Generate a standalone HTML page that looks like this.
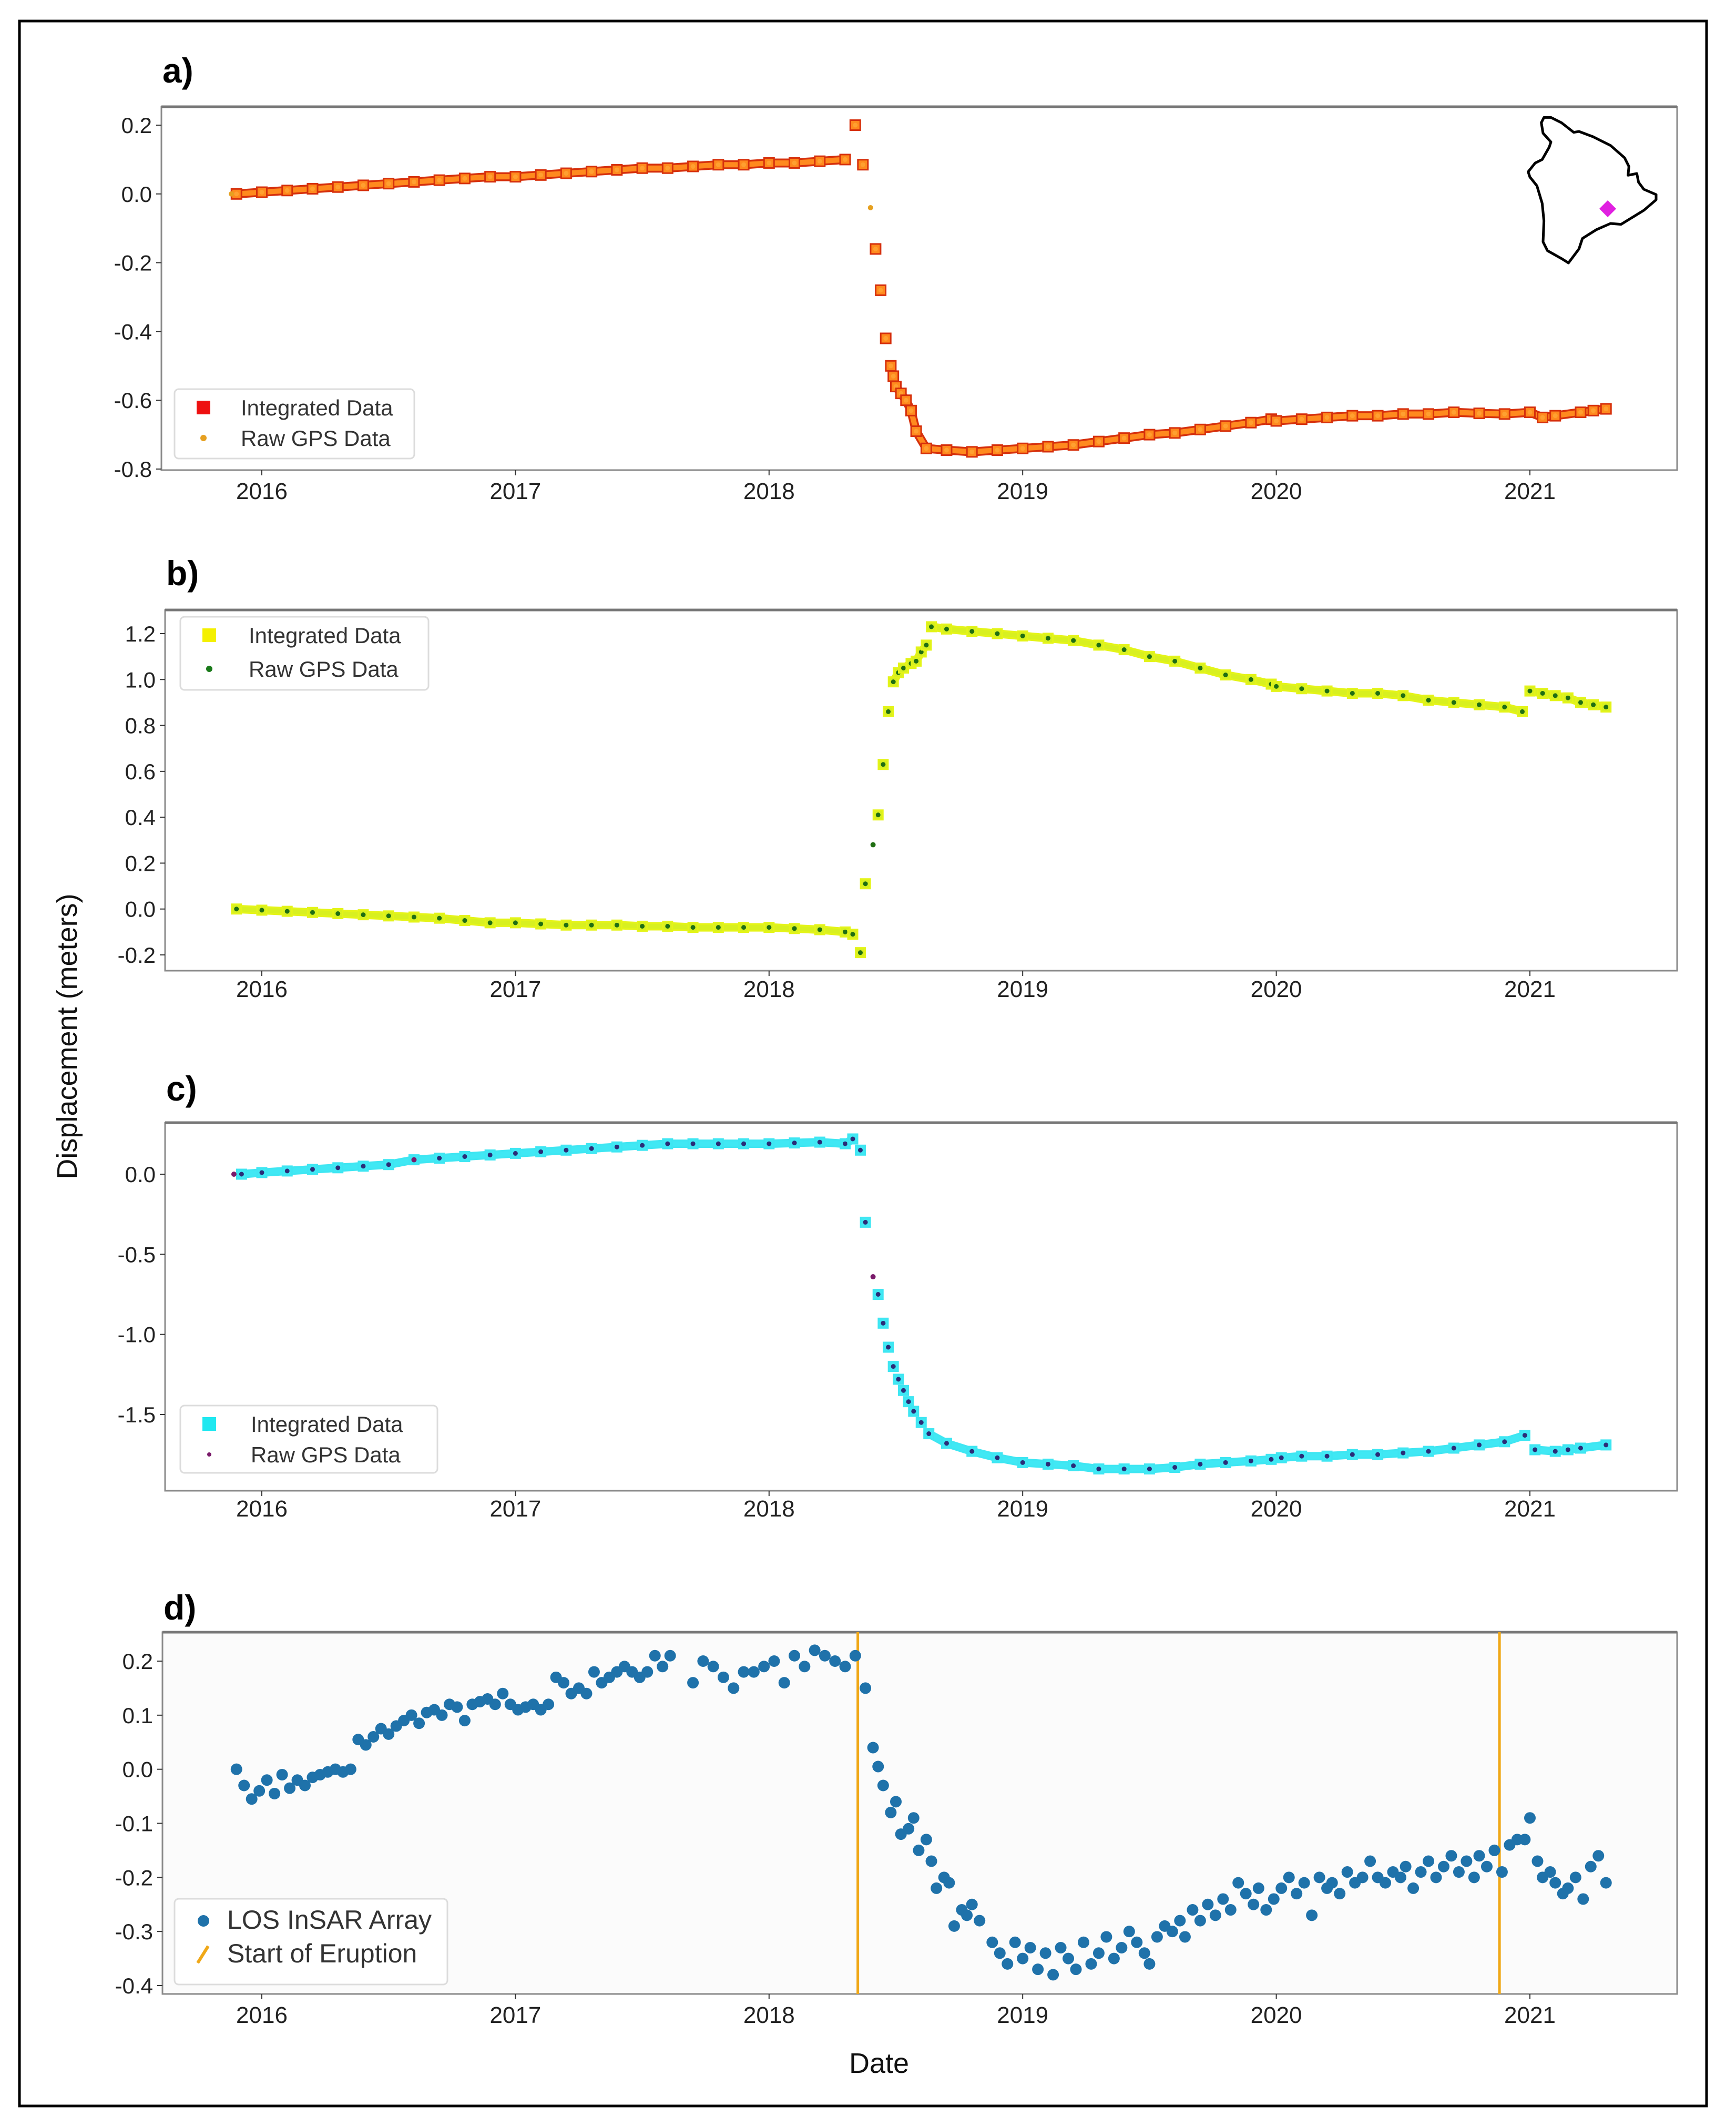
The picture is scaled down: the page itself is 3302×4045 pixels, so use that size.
<!DOCTYPE html>
<html><head><meta charset="utf-8"><style>
html,body{margin:0;padding:0;background:#fff;}
svg{display:block;font-family:"Liberation Sans",sans-serif;}
</style></head><body>
<svg id="fig" width="3302" height="4045" viewBox="0 0 3302 4045" xmlns="http://www.w3.org/2000/svg"></svg>
<script>
// ---------- Panel a data ----------
const aDates=[2015.9,2016.0,2016.1,2016.2,2016.3,2016.4,2016.5,2016.6,2016.7,2016.8,2016.9,2017.0,2017.1,2017.2,2017.3,2017.4,2017.5,2017.6,2017.7,2017.8,2017.9,2018.0,2018.1,2018.2,2018.3,2018.34,2018.37,2018.42,2018.44,2018.46,2018.48,2018.49,2018.5,2018.52,2018.54,2018.56,2018.58,2018.62,2018.7,2018.8,2018.9,2019.0,2019.1,2019.2,2019.3,2019.4,2019.5,2019.6,2019.7,2019.8,2019.9,2019.98,2020.0,2020.1,2020.2,2020.3,2020.4,2020.5,2020.6,2020.7,2020.8,2020.9,2021.0,2021.05,2021.1,2021.2,2021.25,2021.3];
const aValues=[0.0,0.005,0.01,0.015,0.02,0.025,0.03,0.035,0.04,0.045,0.05,0.05,0.055,0.06,0.065,0.07,0.075,0.075,0.08,0.085,0.085,0.09,0.09,0.095,0.10,0.20,0.085,-0.16,-0.28,-0.42,-0.50,-0.53,-0.56,-0.58,-0.60,-0.63,-0.69,-0.74,-0.745,-0.75,-0.745,-0.74,-0.735,-0.73,-0.72,-0.71,-0.70,-0.695,-0.685,-0.675,-0.665,-0.655,-0.66,-0.655,-0.65,-0.645,-0.645,-0.64,-0.64,-0.635,-0.638,-0.64,-0.635,-0.65,-0.645,-0.635,-0.63,-0.625];
const aRawDates=[2015.88,2018.40];
const aRawValues=[0.0,-0.04];
const aTicks=[0.2,0.0,-0.2,-0.4,-0.6,-0.8];
const aTickLabels=["0.2","0.0","-0.2","-0.4","-0.6","-0.8"];
// ---------- Panel b data ----------
const bDates=[2015.9,2016.0,2016.1,2016.2,2016.3,2016.4,2016.5,2016.6,2016.7,2016.8,2016.9,2017.0,2017.1,2017.2,2017.3,2017.4,2017.5,2017.6,2017.7,2017.8,2017.9,2018.0,2018.1,2018.2,2018.3,2018.33,2018.36,2018.38,2018.43,2018.45,2018.47,2018.49,2018.51,2018.53,2018.56,2018.58,2018.6,2018.62,2018.64,2018.7,2018.8,2018.9,2019.0,2019.1,2019.2,2019.3,2019.4,2019.5,2019.6,2019.7,2019.8,2019.9,2019.98,2020.0,2020.1,2020.2,2020.3,2020.4,2020.5,2020.6,2020.7,2020.8,2020.9,2020.97,2021.0,2021.05,2021.1,2021.15,2021.2,2021.25,2021.3];
const bValues=[0.0,-0.005,-0.01,-0.015,-0.02,-0.025,-0.03,-0.035,-0.04,-0.05,-0.06,-0.06,-0.065,-0.07,-0.07,-0.07,-0.075,-0.075,-0.08,-0.08,-0.08,-0.08,-0.085,-0.09,-0.10,-0.11,-0.19,0.11,0.41,0.63,0.86,0.99,1.03,1.05,1.07,1.08,1.12,1.15,1.23,1.22,1.21,1.20,1.19,1.18,1.17,1.15,1.13,1.10,1.08,1.05,1.02,1.00,0.98,0.97,0.96,0.95,0.94,0.94,0.93,0.91,0.90,0.89,0.88,0.86,0.95,0.94,0.93,0.92,0.90,0.89,0.88];
const bRawDates=[2018.41];
const bRawValues=[0.28];
const bTicks=[1.2,1.0,0.8,0.6,0.4,0.2,0.0,-0.2];
const bTickLabels=["1.2","1.0","0.8","0.6","0.4","0.2","0.0","-0.2"];
// ---------- Panel c data ----------
const cDates=[2015.92,2016.0,2016.1,2016.2,2016.3,2016.4,2016.5,2016.6,2016.7,2016.8,2016.9,2017.0,2017.1,2017.2,2017.3,2017.4,2017.5,2017.6,2017.7,2017.8,2017.9,2018.0,2018.1,2018.2,2018.3,2018.33,2018.36,2018.38,2018.43,2018.45,2018.47,2018.49,2018.51,2018.53,2018.55,2018.57,2018.6,2018.63,2018.7,2018.8,2018.9,2019.0,2019.1,2019.2,2019.3,2019.4,2019.5,2019.6,2019.7,2019.8,2019.9,2019.98,2020.02,2020.1,2020.2,2020.3,2020.4,2020.5,2020.6,2020.7,2020.8,2020.9,2020.98,2021.02,2021.1,2021.15,2021.2,2021.3];
const cValues=[0.0,0.01,0.02,0.03,0.04,0.05,0.06,0.09,0.10,0.11,0.12,0.13,0.14,0.15,0.16,0.17,0.18,0.19,0.19,0.19,0.19,0.19,0.195,0.20,0.19,0.22,0.15,-0.30,-0.75,-0.93,-1.08,-1.20,-1.28,-1.35,-1.42,-1.48,-1.55,-1.62,-1.68,-1.73,-1.77,-1.80,-1.81,-1.82,-1.84,-1.84,-1.84,-1.83,-1.81,-1.80,-1.79,-1.78,-1.77,-1.76,-1.76,-1.75,-1.75,-1.74,-1.73,-1.71,-1.69,-1.67,-1.63,-1.72,-1.73,-1.72,-1.71,-1.69];
const cRawDates=[2015.89,2016.6,2018.41];
const cRawValues=[0.0,0.09,-0.64];
const cTicks=[0.0,-0.5,-1.0,-1.5];
const cTickLabels=["0.0","-0.5","-1.0","-1.5"];
// ---------- Panel d data ----------
const dDates=[2015.90,2015.93,2015.96,2015.99,2016.02,2016.05,2016.08,2016.11,2016.14,2016.17,2016.20,2016.23,2016.26,2016.29,2016.32,2016.35,
2016.38,2016.41,2016.44,2016.47,2016.50,2016.53,2016.56,2016.59,2016.62,2016.65,2016.68,2016.71,2016.74,2016.77,2016.80,2016.83,2016.86,2016.89,2016.92,2016.95,
2016.98,2017.01,2017.04,2017.07,2017.10,2017.13,
2017.16,2017.19,2017.22,2017.25,2017.28,2017.31,2017.34,2017.37,2017.40,2017.43,2017.46,2017.49,2017.52,2017.55,2017.58,2017.61,
2017.70,2017.74,2017.78,2017.82,2017.86,2017.90,2017.94,2017.98,2018.02,2018.06,2018.10,2018.14,2018.18,2018.22,2018.26,2018.30,2018.34,2018.38,
2018.41,2018.43,2018.45,2018.48,2018.50,2018.52,2018.55,2018.57,2018.59,2018.62,2018.64,2018.66,2018.69,2018.71,2018.73,2018.76,2018.78,2018.80,2018.83,
2018.88,2018.91,2018.94,2018.97,2019.00,2019.03,2019.06,2019.09,2019.12,2019.15,2019.18,2019.21,2019.24,2019.27,2019.30,2019.33,2019.36,2019.39,2019.42,2019.45,2019.48,2019.50,
2019.53,2019.56,2019.59,2019.62,2019.64,2019.67,2019.70,2019.73,2019.76,2019.79,2019.82,2019.85,2019.88,2019.91,2019.93,2019.96,2019.99,
2020.02,2020.05,2020.08,2020.11,2020.14,2020.17,2020.20,2020.22,2020.25,2020.28,2020.31,2020.34,2020.37,2020.40,2020.43,2020.46,2020.49,2020.51,2020.54,2020.57,2020.60,2020.63,2020.66,2020.69,2020.72,2020.75,2020.78,2020.80,2020.83,2020.86,2020.89,2020.92,2020.95,2020.98,2021.00,
2021.03,2021.05,2021.08,2021.10,2021.13,2021.15,2021.18,2021.21,2021.24,2021.27,2021.30];
const dValues=[0.0,-0.03,-0.055,-0.04,-0.02,-0.045,-0.01,-0.035,-0.02,-0.03,-0.015,-0.01,-0.005,0.0,-0.005,0.0,
0.055,0.045,0.06,0.075,0.065,0.08,0.09,0.10,0.085,0.105,0.11,0.10,0.12,0.115,0.09,0.12,0.125,0.13,0.12,0.14,
0.12,0.11,0.115,0.12,0.11,0.12,
0.17,0.16,0.14,0.15,0.14,0.18,0.16,0.17,0.18,0.19,0.18,0.17,0.18,0.21,0.19,0.21,
0.16,0.20,0.19,0.17,0.15,0.18,0.18,0.19,0.20,0.16,0.21,0.19,0.22,0.21,0.20,0.19,0.21,0.15,
0.04,0.005,-0.03,-0.08,-0.06,-0.12,-0.11,-0.09,-0.15,-0.13,-0.17,-0.22,-0.20,-0.21,-0.29,-0.26,-0.27,-0.25,-0.28,
-0.32,-0.34,-0.36,-0.32,-0.35,-0.33,-0.37,-0.34,-0.38,-0.33,-0.35,-0.37,-0.32,-0.36,-0.34,-0.31,-0.35,-0.33,-0.30,-0.32,-0.34,-0.36,
-0.31,-0.29,-0.30,-0.28,-0.31,-0.26,-0.28,-0.25,-0.27,-0.24,-0.26,-0.21,-0.23,-0.25,-0.22,-0.26,-0.24,
-0.22,-0.20,-0.23,-0.21,-0.27,-0.20,-0.22,-0.21,-0.23,-0.19,-0.21,-0.20,-0.17,-0.20,-0.21,-0.19,-0.20,-0.18,-0.22,-0.19,-0.17,-0.20,-0.18,-0.16,-0.19,-0.17,-0.20,-0.16,-0.18,-0.15,-0.19,-0.14,-0.13,-0.13,-0.09,
-0.17,-0.20,-0.19,-0.21,-0.23,-0.22,-0.20,-0.24,-0.18,-0.16,-0.21];
const eruptionDates=[2018.35,2020.88];
const dTicks=[0.2,0.1,0.0,-0.1,-0.2,-0.3,-0.4];
const dTickLabels=["0.2","0.1","0.0","-0.1","-0.2","-0.3","-0.4"];
const yearTicks=[2016,2017,2018,2019,2020,2021];
const yearLabels=["2016","2017","2018","2019","2020","2021"];

const NS="http://www.w3.org/2000/svg";
const svg=document.getElementById('fig');
function mk(tag,attrs,parent){const e=document.createElementNS(NS,tag);for(const k in attrs)e.setAttribute(k,attrs[k]);(parent||svg).appendChild(e);return e;}

const border=mk('rect',{x:37,y:40,width:3209,height:3965,fill:'none',stroke:'#000','stroke-width':5});



function xScaleFactory(){return t=>498+(t-2016)*482.4;}
function yScaleFactory(v1,p1,v2,p2){return v=>p1+(v-v1)*(p2-p1)/(v2-v1);}

function panel(cfg){
  const g=mk('g',{});
  
  
  const X=xScaleFactory(); const Y=cfg.Y;
  const bg=mk('rect',{x:cfg.left,y:cfg.top,width:cfg.right-cfg.left,height:cfg.bottom-cfg.top,fill:cfg.bg||'#fff',stroke:'#8a8a8a','stroke-width':3},g);
  
  
  const topl=mk('line',{x1:cfg.left,y1:cfg.top,x2:cfg.right,y2:cfg.top,stroke:'#777','stroke-width':5},g);
  
  
  const lab=mk('text',{x:cfg.left+2,y:cfg.labelY,'font-size':66,'font-weight':'bold',fill:'#000'},g);
  lab.textContent=cfg.label;
  
  
  cfg.ticks.forEach((v,i)=>{
    const y=Y(v);
    const tk=mk('line',{x1:cfg.left-10,y1:y,x2:cfg.left,y2:y,stroke:'#333','stroke-width':2},g);
    
    
    const t=mk('text',{x:cfg.left-18,y:y+15,'font-size':42,'text-anchor':'end',fill:'#222'},g);
    t.textContent=cfg.tickLabels[i];
    
    
  });
  yearTicks.forEach((yr,i)=>{
    const x=X(yr);
    const tk=mk('line',{x1:x,y1:cfg.bottom,x2:x,y2:cfg.bottom+10,stroke:'#333','stroke-width':2},g);
    
    
    const t=mk('text',{x:x,y:cfg.xLabelY+15,'font-size':44,'text-anchor':'middle',fill:'#222'},g);
    t.textContent=yearLabels[i];
    
    
  });
  return {g,X,Y};
}

function bandAndSquares(p,dates,vals,col,halo,fill,size){
  let seg=[];
  const segs=[];
  for(let i=0;i<dates.length;i++){
    if(i>0 && (dates[i]-dates[i-1]>0.12 || Math.abs(vals[i]-vals[i-1])>0.06)){segs.push(seg);seg=[];}
    seg.push([p.X(dates[i]),p.Y(vals[i])]);
  }
  segs.push(seg);
  segs.forEach(s=>{
    if(s.length<2)return;
    const pl=mk('polyline',{points:s.map(q=>q.join(',')).join(' '),fill:'none',stroke:halo,'stroke-width':size-2,'stroke-linejoin':'round'},p.g);
    
    
    const pl2=mk('polyline',{points:s.map(q=>q.join(',')).join(' '),fill:'none',stroke:col,'stroke-width':size-9,'stroke-linejoin':'round'},p.g);
    
    
  });
  dates.forEach((d,i)=>{
    const x=p.X(d),y=p.Y(vals[i]);
    const r=mk('rect',{x:x-size/2,y:y-size/2,width:size,height:size,fill:col,stroke:halo,'stroke-width':3},p.g);
    
    
    const c=mk('circle',{cx:x,cy:y,r:4.5,fill:fill},p.g);
    
    
  });
}
function rawPoints(p,dates,vals,fill){
  dates.forEach((d,i)=>{
    const c=mk('circle',{cx:p.X(d),cy:p.Y(vals[i]),r:5,fill:fill},p.g);
    
    
  });
}
function legend(p,cfg){
  const lg=mk('g',{},p.g);
  
  
  const b=mk('rect',{x:cfg.x,y:cfg.y,width:cfg.w,height:cfg.h,rx:8,fill:'#fff',stroke:'#dcdcdc','stroke-width':3},lg);
  
  
  cfg.items.forEach(it=>{
    const e=mk('g',{},lg);
    
    
    if(it.kind==='sq'){mk('rect',{x:cfg.x+42,y:it.y-13,width:26,height:26,fill:it.color},e);}
    else if(it.kind==='dot'){mk('circle',{cx:cfg.x+55,cy:it.y,r:it.r||6,fill:it.color},e);}
    else if(it.kind==='line'){mk('line',{x1:cfg.x+44,y1:it.y+16,x2:cfg.x+64,y2:it.y-16,stroke:it.color,'stroke-width':6},e);}
    const t=mk('text',{x:cfg.x+cfg.tx,y:it.y+15,'font-size':cfg.fs,fill:'#333'},e);
    t.textContent=it.text;
  });
}

// Panel a
const pa=panel({name:'panel-a',label:'a)',labelY:157,left:307,right:3190,top:203,bottom:894,
  Y:yScaleFactory(0.2,238,-0.8,892),ticks:aTicks,tickLabels:aTickLabels,xLabelY:934});
bandAndSquares(pa,aDates,aValues,'#ff8a1e','#d6300c','#ffa030',19);
rawPoints(pa,aRawDates,aRawValues,'#e6a020');
legend(pa,{x:332,y:740,w:456,h:132,tx:126,fs:42,items:[{kind:'sq',y:775,color:'#ee1010',text:'Integrated Data'},{kind:'dot',y:833,color:'#e6a020',text:'Raw GPS Data'}]});
const inset=mk('g',{},pa.g);


const isl=[[260,130],[300,130],[360,160],[430,215],[460,210],[540,240],[640,290],[720,360],[745,410],[740,460],[790,450],[800,500],[830,540],[900,570],[900,600],[830,660],[700,740],[640,735],[560,770],[480,820],[460,880],[400,960],[360,935],[280,890],[255,840],[260,720],[250,620],[220,520],[180,470],[170,440],[210,390],[250,370],[290,300],[300,270],[255,220],[245,160]];
mk('polygon',{points:isl.map(q=>(2850+q[0]/3)+','+(180+q[1]/3)).join(' '),fill:'#fff',stroke:'#000','stroke-width':5,'stroke-linejoin':'round'},inset);
const dia=mk('polygon',{points:'3058,381 3074,397 3058,413 3042,397',fill:'#e020e0'},inset);



// Panel b
const pb=panel({name:'panel-b',label:'b)',labelY:1113,left:314,right:3190,top:1160,bottom:1846,
  Y:yScaleFactory(1.2,1205,-0.2,1816),ticks:bTicks,tickLabels:bTickLabels,xLabelY:1881});
bandAndSquares(pb,bDates,bValues,'#d8f020','#e4f418','#1f6e12',18);
rawPoints(pb,bRawDates,bRawValues,'#1f6e12');
legend(pb,{x:343,y:1173,w:472,h:139,tx:130,fs:42,items:[{kind:'sq',y:1208,color:'#f4f000',text:'Integrated Data'},{kind:'dot',y:1272,color:'#1a7a1a',text:'Raw GPS Data'}]});

// Panel c
const pc=panel({name:'panel-c',label:'c)',labelY:2093,left:314,right:3190,top:2135,bottom:2835,
  Y:yScaleFactory(0.0,2233,-1.5,2690),ticks:cTicks,tickLabels:cTickLabels,xLabelY:2869});
bandAndSquares(pc,cDates,cValues,'#40e8f4','#3ee6f2','#2a2c78',18);
rawPoints(pc,cRawDates,cRawValues,'#7a1a6a');
legend(pc,{x:343,y:2673,w:489,h:128,tx:134,fs:42,items:[{kind:'sq',y:2708,color:'#20e8f0',text:'Integrated Data'},{kind:'dot',y:2766,color:'#7a1a6a',r:4,text:'Raw GPS Data'}]});

// Panel d
const pd=panel({name:'panel-d',label:'d)',labelY:3080,left:309,right:3190,top:3104,bottom:3792,bg:'#fbfbfb',
  Y:yScaleFactory(0.2,3159,-0.4,3776),ticks:dTicks,tickLabels:dTickLabels,xLabelY:3832});
eruptionDates.forEach(d=>{
  const l=mk('line',{x1:pd.X(d),y1:3104,x2:pd.X(d),y2:3792,stroke:'#f0a818','stroke-width':5},pd.g);
  
  
});
dDates.forEach((d,i)=>{
  const c=mk('circle',{cx:pd.X(d),cy:pd.Y(dValues[i]),r:11,fill:'#1f72aa'},pd.g);
  
  
});
legend(pd,{x:332,y:3611,w:519,h:163,tx:100,fs:50,items:[{kind:'dot',y:3653,color:'#1f72aa',r:11,text:'LOS InSAR Array'},{kind:'line',y:3717,color:'#f0a818',text:'Start of Eruption'}]});

const yl=mk('text',{x:0,y:0,'font-size':54,'text-anchor':'middle',fill:'#111',transform:'translate(146,1971) rotate(-90)'});
yl.textContent='Displacement (meters)';


const xl=mk('text',{x:1672,y:3942,'font-size':54,'text-anchor':'middle',fill:'#111'});
xl.textContent='Date';


</script>
</body></html>
